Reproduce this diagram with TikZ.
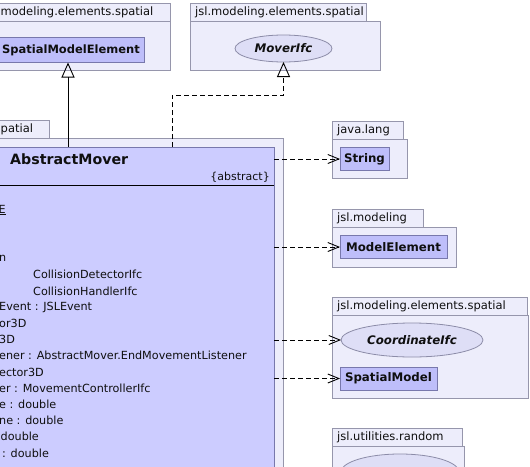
\documentclass[tikz,border=0pt]{standalone}
\usepackage{fontspec}
\setmainfont{DejaVu Sans}
\usetikzlibrary{arrows.meta,shapes.geometric}
\definecolor{pkgfill}{RGB}{237,237,251}
\definecolor{pkgdraw}{RGB}{150,150,172}
\definecolor{amfill}{RGB}{204,204,255}
\definecolor{clsfill}{RGB}{190,190,250}
\definecolor{clsdraw}{RGB}{120,120,172}
\definecolor{ifcfill}{RGB}{222,222,246}
\definecolor{ifcdraw}{RGB}{140,140,168}
\definecolor{txt}{RGB}{15,15,15}
\begin{document}
\begin{tikzpicture}[x=1pt,y=-1pt,
  box/.style={anchor=north west,inner sep=0pt,outer sep=0pt},
  pkg/.style={box,draw=pkgdraw,fill=pkgfill,line width=0.9pt},
  pkgtext/.style={anchor=west,inner sep=0pt,text=txt,font=\fontsize{11.5}{13}\selectfont},
  cls/.style={draw=clsdraw,fill=clsfill,line width=0.9pt,inner sep=0pt,outer sep=0pt,text=txt,
    font=\fontsize{11.8}{13}\selectfont\bfseries},
  ifc/.style={ellipse,draw=ifcdraw,fill=ifcfill,line width=0.8pt,inner sep=0pt,outer sep=0pt,text=txt,
    font=\fontsize{11.8}{13}\selectfont\bfseries\itshape},
  attr/.style={anchor=west,inner sep=0pt,text=txt,font=\fontsize{11.2}{13}\selectfont},
  genline/.style={draw=black,line width=0.9pt,-{Triangle[open,length=15pt,width=13pt]}},
  realline/.style={draw=black,line width=0.9pt,dash pattern=on 5pt off 3pt,-{Triangle[open,length=15pt,width=13pt]}},
  dep/.style={draw=black,line width=0.9pt,dash pattern=on 5pt off 3pt,-{Straight Barb[length=11pt,width=9pt]}}]
\useasboundingbox (0,0) rectangle (530,466);
\clip (0,0) rectangle (530,466);
\fill[white] (0,0) rectangle (530,466);

% left package jsl.modeling.elements.spatial
\node[pkg,minimum width=180pt,minimum height=18pt] (lptab) at (-10,3) {};
\node[pkg,minimum width=180pt,minimum height=49pt] (lpbody) at (-10,21) {};
\node[pkgtext] (lptxt) at (0.5,12) {modeling.elements.spatial};
\node[cls,minimum width=146pt,minimum height=25pt,font=\fontsize{11.5}{13}\selectfont\bfseries] (sme) at (71,50) {SpatialModelElement};

% MoverIfc package
\node[pkg,minimum width=176pt,minimum height=18pt] (mptab) at (190,3) {};
\node[pkg,minimum width=190pt,minimum height=49pt] (mpbody) at (190,21) {};
\node[pkgtext] (mptxt) at (195,12) {jsl.modeling.elements.spatial};
\node[ifc,minimum width=97pt,minimum height=27pt] (mover) at (283.5,48.5) {MoverIfc};

% AbstractMover package
\node[pkg,minimum width=59pt,minimum height=18pt] (amtab) at (-10,120) {};
\node[pkg,minimum width=293pt,minimum height=360pt] (ambody) at (-10,138) {};
\node[pkgtext] (amtxt) at (0.5,129) {patial};

% AbstractMover class
\node[box,draw=clsdraw,fill=amfill,line width=0.9pt,minimum width=424pt,minimum height=340pt] (am) at (-150,147) {};
\node[anchor=west,inner sep=0pt,text=txt,font=\fontsize{14.2}{16}\selectfont\bfseries] (amname) at (10,159) {AbstractMover};
\node[anchor=east,inner sep=0pt,text=txt,font=\fontsize{11}{12}\selectfont] (amabs) at (270,177) {\{abstract\}};
\coordinate (sep) at (0,185);
\draw[line width=0.9pt,black] (am.west |- sep) -- (am.east |- sep);

\node[attr] (a1) at (-1.5,210) {\underline{E}};
\node[attr] (a4) at (-1,258.5) {n};
\node[attr] (a5) at (33,274.7) {CollisionDetectorIfc};
\node[attr] (a6) at (33,291) {CollisionHandlerIfc};
\node[attr] (a7) at (-1,307.2) {Event : JSLEvent};
\node[attr] (a8) at (-1,323.4) {or3D};
\node[attr] (a9) at (-1,339.6) {3D};
\node[attr] (a10) at (-1,355.8) {ener : AbstractMover.EndMovementListener};
\node[attr] (a11) at (-1,372) {ector3D};
\node[attr] (a12) at (-1,388.2) {er : MovementControllerIfc};
\node[attr] (a13) at (-1,404.4) {e : double};
\node[attr] (a14) at (-1,420.6) {ne : double};
\node[attr] (a15) at (0.5,436.8) {double};
\node[attr] (a16) at (2,453) {: double};

% java.lang
\node[pkg,minimum width=71pt,minimum height=18pt] (jltab) at (332,121) {};
\node[pkg,minimum width=75pt,minimum height=39pt] (jlbody) at (332,139) {};
\node[pkgtext] (jltxt) at (337,130) {java.lang};
\node[cls,minimum width=49pt,minimum height=23pt] (str) at (364.5,159) {String};

% jsl.modeling
\node[pkg,minimum width=91pt,minimum height=18pt] (jmtab) at (332,209) {};
\node[pkg,minimum width=124pt,minimum height=40pt] (jmbody) at (332,227) {};
\node[pkgtext] (jmtxt) at (337,218) {jsl.modeling};
\node[cls,minimum width=107pt,minimum height=23pt] (me) at (393.5,247) {ModelElement};

% jsl.modeling.elements.spatial (right)
\node[pkg,minimum width=195pt,minimum height=18pt] (jstab) at (332,297) {};
\node[pkg,minimum width=196pt,minimum height=83pt] (jsbody) at (332,315) {};
\node[pkgtext] (jstxt) at (337,306) {jsl.modeling.elements.spatial};
\node[ifc,minimum width=142pt,minimum height=34pt] (coord) at (412,340) {CoordinateIfc};
\node[cls,minimum width=97pt,minimum height=23pt] (sm) at (388.5,378.5) {SpatialModel};

% jsl.utilities.random
\node[pkg,minimum width=130pt,minimum height=18pt] (jrtab) at (332,428) {};
\node[pkg,minimum width=132pt,minimum height=60pt] (jrbody) at (332,446) {};
\node[pkgtext] (jrtxt) at (337,437) {jsl.utilities.random};
\node[ifc,minimum width=118pt,minimum height=36pt] (rnd) at (400,472) {};

% connectors
\coordinate (gx) at (68,0);
\draw[genline] (am.north -| gx) -- (sme.south -| gx);
\coordinate (rb) at (172,95);
\draw[realline] (am.north -| rb) -- (rb) -| (mover.south);
\draw[dep] (am.east |- str.west) -- (str.west);
\draw[dep] (am.east |- me.west) -- (me.west);
\draw[dep] (am.east |- coord.west) -- (coord.west);
\draw[dep] (am.east |- sm.west) -- (sm.west);
\end{tikzpicture}
\end{document}
